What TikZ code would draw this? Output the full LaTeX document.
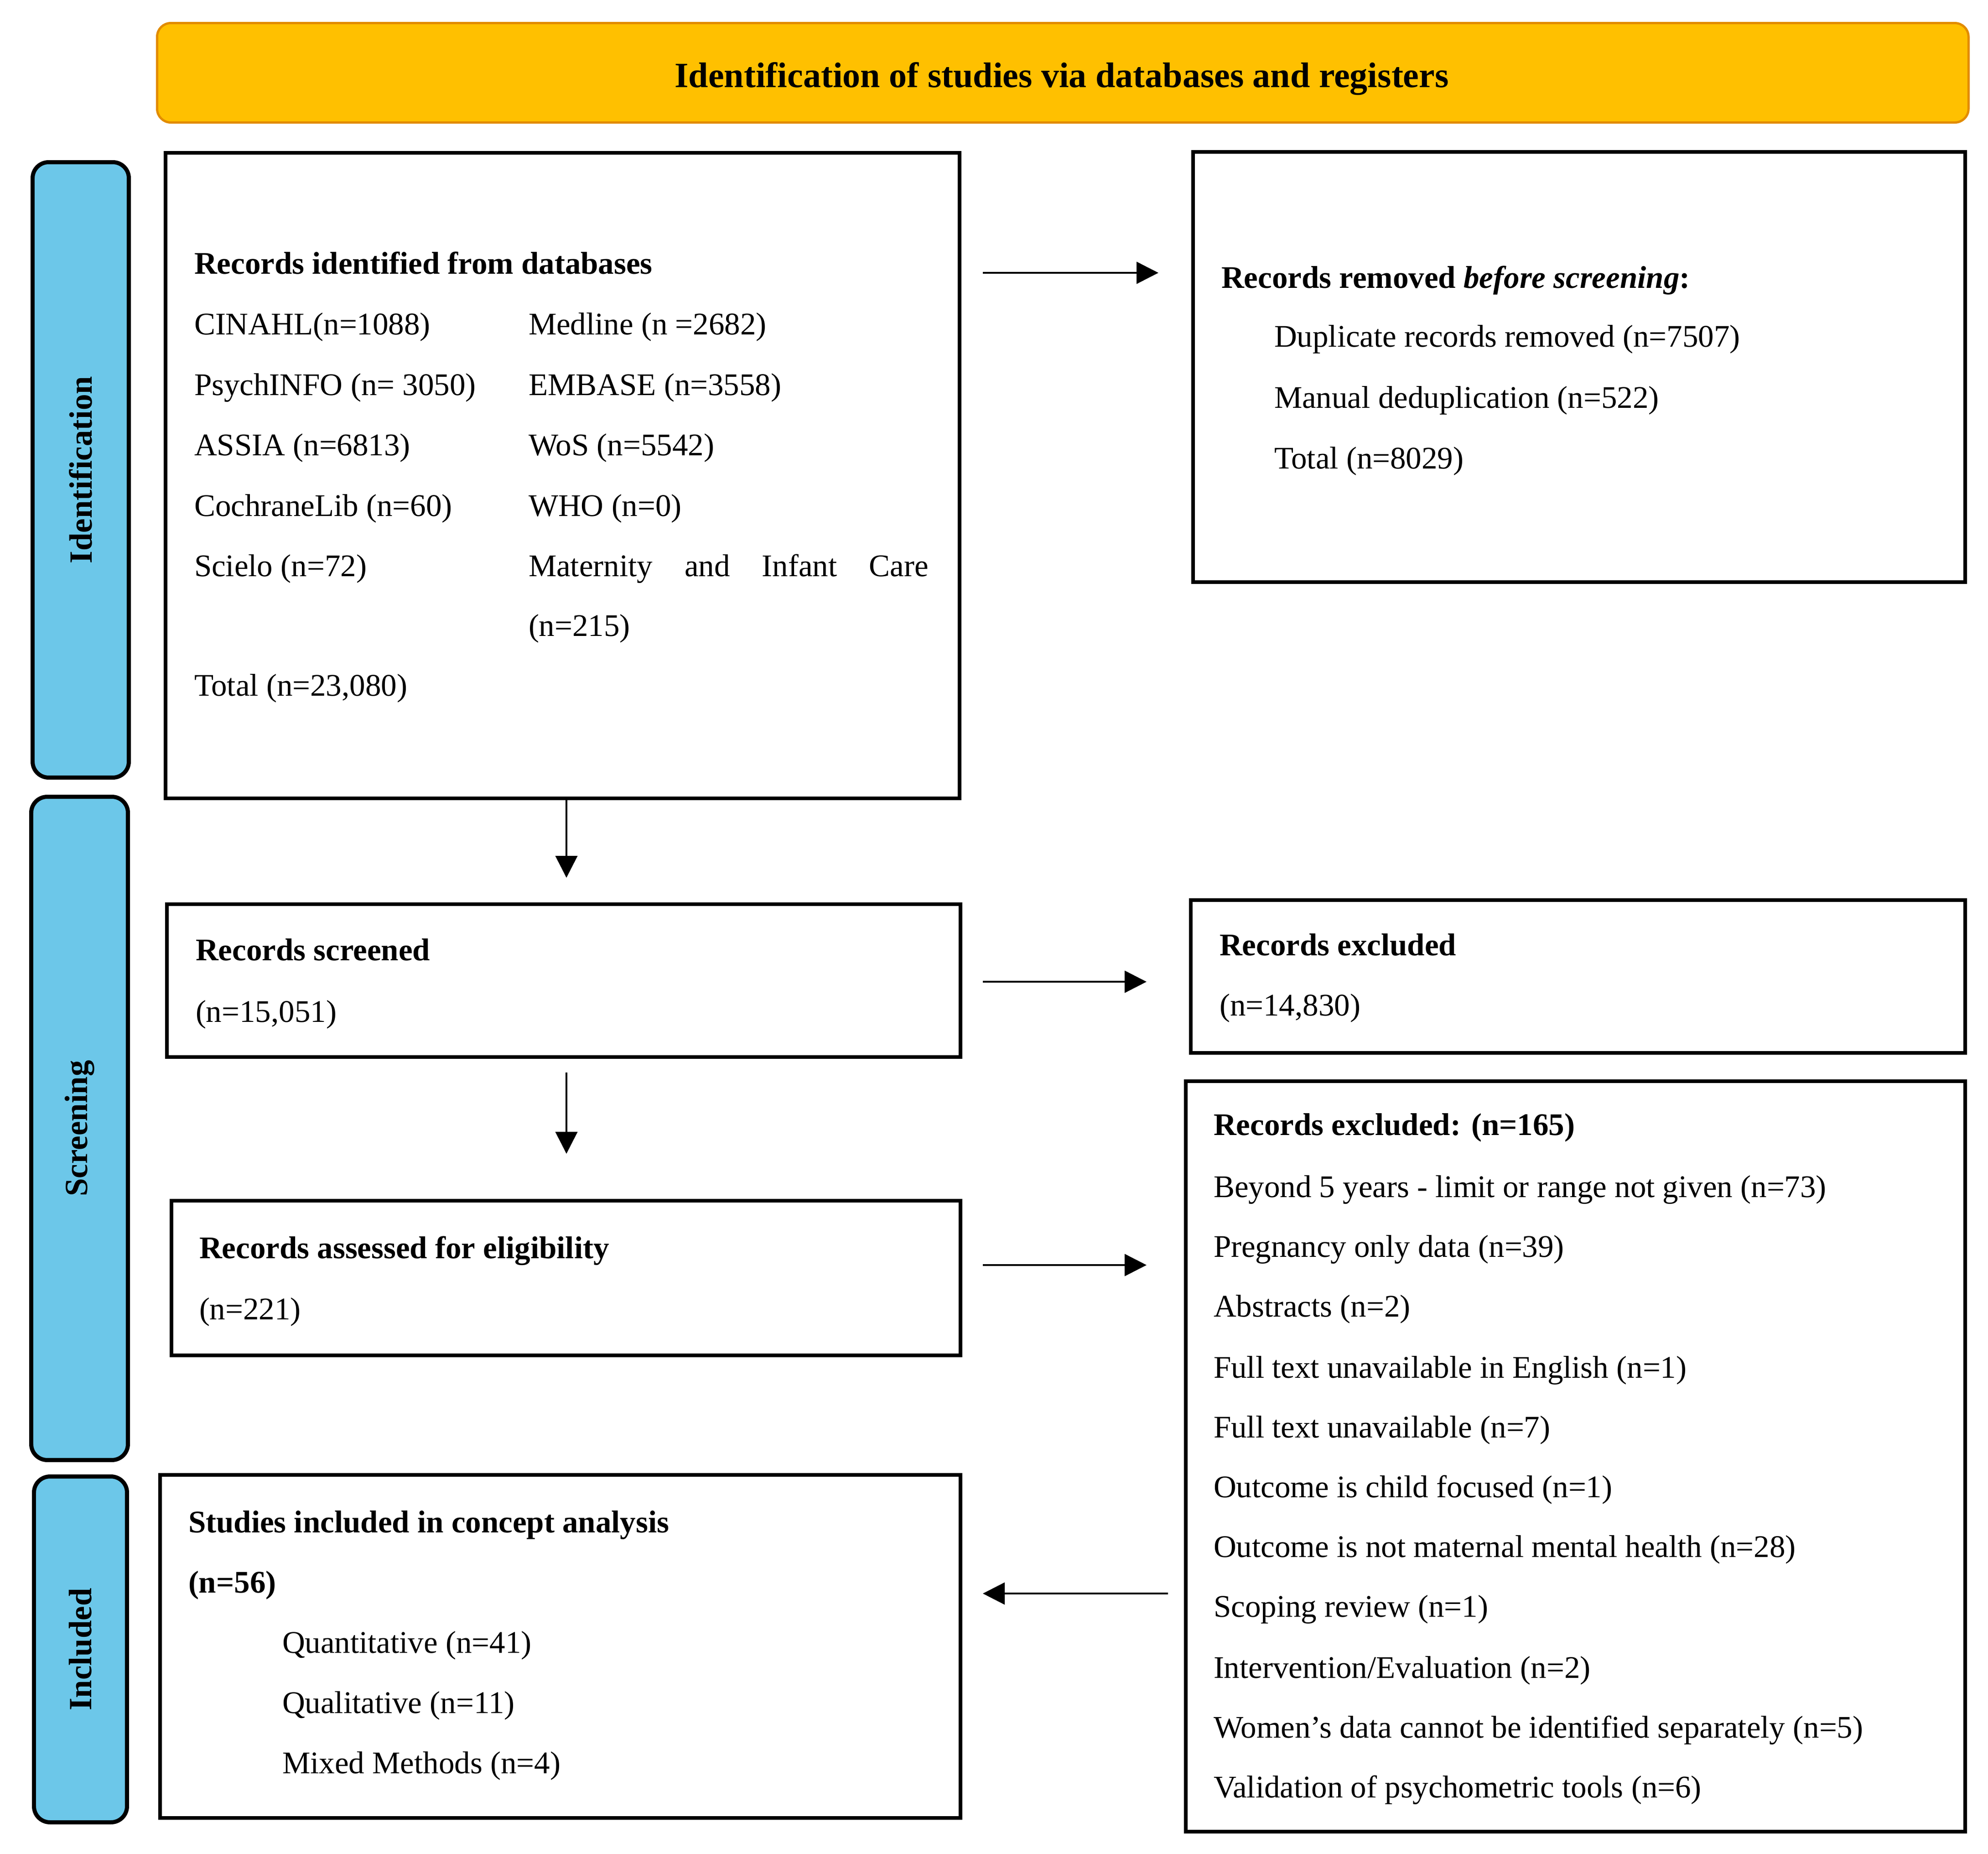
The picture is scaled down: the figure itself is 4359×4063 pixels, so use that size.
\documentclass[tikz,border=0pt]{standalone}
\usepackage{fontspec}
\setmainfont{Liberation Serif}
\usetikzlibrary{arrows.meta}
\definecolor{gold}{RGB}{255,192,0}
\definecolor{goldline}{RGB}{226,140,0}
\definecolor{sky}{RGB}{108,199,233}
\newcommand\fsz{\fontsize{6.9}{8}\selectfont}
\newcommand\fszl{\fontsize{7.1}{8}\selectfont}
\newcommand\fszb{\fontsize{7.8}{9}\selectfont}
\begin{document}
\begin{tikzpicture}[x=0.1pt,y=-0.1pt,
  box/.style={draw=black, line width=0.8pt, anchor=north west, inner sep=0pt, fill=white},
  lab/.style={draw=black, line width=0.9pt, fill=sky, rounded corners=3.5pt, anchor=north west, inner sep=0pt},
  labtxt/.style={rotate=90, inner sep=0pt, font=\fszl\bfseries},
  txt/.style={anchor=mid west, inner sep=0pt, font=\fsz},
  arr/.style={line width=0.4pt, -{Triangle[length=4.8pt,width=4.8pt]}}]
\useasboundingbox (0,0) rectangle (4359,4063);

% banner
\node[draw=goldline, line width=0.5pt, fill=gold, rounded corners=3pt, anchor=north west, inner sep=0pt,
      minimum width=397.2pt, minimum height=21.8pt] (banner) at (342,48) {};
\node[inner sep=0pt, anchor=mid, font=\fszb\bfseries] (bannertxt) at (2328,169) {Identification of studies via databases and registers};

% side labels
\node[lab, minimum width=21.1pt, minimum height=134.9pt] (idlab) at (67,351) {};
\node[labtxt] (idlabtxt) at (idlab.center) {Identification};
\node[lab, minimum width=21.2pt, minimum height=145.4pt] (scrlab) at (64,1742) {};
\node[labtxt] (scrlabtxt) at (scrlab.center) {Screening};
\node[lab, minimum width=20.4pt, minimum height=75.8pt] (inclab) at (70,3232) {};
\node[labtxt] (inclabtxt) at (inclab.center) {Included};

% boxes
\node[box, minimum width=174.1pt, minimum height=141.5pt] (idbox) at (359,331) {};
\node[box, minimum width=169.3pt, minimum height=94.3pt] (rembox) at (2612,329) {};
\node[box, minimum width=174.0pt, minimum height=33.5pt] (scrbox) at (362,1978) {};
\node[box, minimum width=169.8pt, minimum height=33.5pt] (exbox) at (2607,1969) {};
\node[box, minimum width=173.0pt, minimum height=33.9pt] (assbox) at (372,2628) {};
\node[box, minimum width=170.9pt, minimum height=164.5pt] (exbbox) at (2596,2366) {};
\node[box, minimum width=175.5pt, minimum height=75.2pt] (incbox) at (347,3229) {};

% identification text
\node[txt] (t1) at (424,578) {\textbf{Records identified from databases}};
\node[txt] (t2) at (424,711) {CINAHL(n=1088)};
\node[txt] (t3) at (1157,711) {Medline (n =2682)};
\node[txt] (t4) at (424,844) {PsychINFO (n= 3050)};
\node[txt] (t5) at (1157,844) {EMBASE (n=3558)};
\node[txt] (t6) at (424,976) {ASSIA (n=6813)};
\node[txt] (t7) at (1157,976) {WoS (n=5542)};
\node[txt] (t8) at (424,1109) {CochraneLib (n=60)};
\node[txt] (t9) at (1157,1109) {WHO (n=0)};
\node[txt] (t10) at (424,1241) {Scielo (n=72)};
\node[txt] (t11) at (1157,1241) {\makebox[87.7pt][s]{Maternity and Infant Care}};
\node[txt] (t12) at (1157,1372) {(n=215)};
\node[txt] (t13) at (424,1503) {Total (n=23,080)};

% removed text
\node[txt] (r1) at (2676,609) {\textbf{Records removed \textit{before screening}:}};
\node[txt] (r2) at (2792,738) {Duplicate records removed (n=7507)};
\node[txt] (r3) at (2792,872) {Manual deduplication (n=522)};
\node[txt] (r4) at (2792,1005) {Total (n=8029)};

% screened
\node[txt] (s1) at (427,2083) {\textbf{Records screened}};
\node[txt] (s2) at (427,2218) {(n=15,051)};
\node[txt] (e1) at (2672,2072) {\textbf{Records excluded}};
\node[txt] (e2) at (2672,2203) {(n=14,830)};

% assessed
\node[txt] (a1) at (435,2736) {\textbf{Records assessed for eligibility}};
\node[txt] (a2) at (435,2869) {(n=221)};

% excluded list
\node[txt] (x0) at (2659,2466) {\textbf{Records excluded: (n=165)}};
\node[txt] (x1) at (2659,2601) {Beyond 5 years - limit or range not given (n=73)};
\node[txt] (x2) at (2659,2732) {Pregnancy only data (n=39)};
\node[txt] (x3) at (2659,2863) {Abstracts (n=2)};
\node[txt] (x4) at (2659,2997) {Full text unavailable in English (n=1)};
\node[txt] (x5) at (2659,3128) {Full text unavailable (n=7)};
\node[txt] (x6) at (2659,3259) {Outcome is child focused (n=1)};
\node[txt] (x7) at (2659,3390) {Outcome is not maternal mental health (n=28)};
\node[txt] (x8) at (2659,3521) {Scoping review (n=1)};
\node[txt] (x9) at (2659,3655) {Intervention/Evaluation (n=2)};
\node[txt] (x10) at (2659,3786) {Women’s data cannot be identified separately (n=5)};
\node[txt] (x11) at (2659,3917) {Validation of psychometric tools (n=6)};

% included
\node[txt] (i1) at (411,3336) {\textbf{Studies included in concept analysis}};
\node[txt] (i2) at (411,3468) {\textbf{(n=56)}};
\node[txt] (i3) at (617,3600) {Quantitative (n=41)};
\node[txt] (i4) at (617,3732) {Qualitative (n=11)};
\node[txt] (i5) at (617,3864) {Mixed Methods (n=4)};

% arrow end points
\coordinate (c1s) at (2155,598);
\coordinate (c1e) at (2540,598);
\coordinate (c2e) at (1242,1924);
\coordinate (c3s) at (1242,2351);
\coordinate (c3e) at (1242,2529);
\coordinate (c4s) at (2155,2152);
\coordinate (c4e) at (2514,2152);
\coordinate (c5s) at (2155,2773);
\coordinate (c5e) at (2514,2773);
\coordinate (c6s) at (2561,3493);
\coordinate (c6e) at (2155,3493);

\draw[arr] (c1s) -- (c1e);
\draw[arr] (idbox.south -| c2e) -- (c2e);
\draw[arr] (c3s) -- (c3e);
\draw[arr] (c4s) -- (c4e);
\draw[arr] (c5s) -- (c5e);
\draw[arr] (c6s) -- (c6e);
\end{tikzpicture}
\end{document}
